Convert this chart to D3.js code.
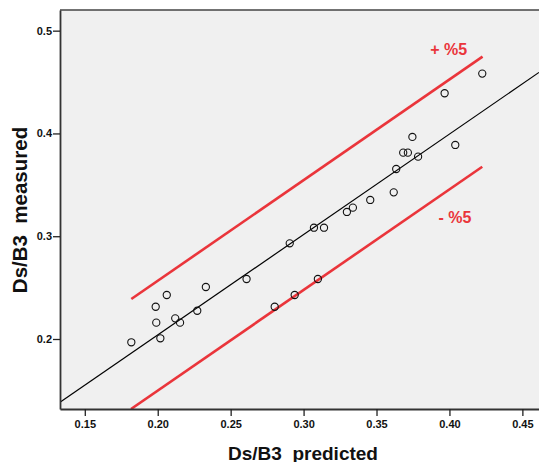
<!DOCTYPE html>
<html>
<head>
<meta charset="utf-8">
<script src="https://cdn.jsdelivr.net/npm/d3@7"></script>
<style>
  html, body { margin: 0; padding: 0; background: #ffffff; }
  svg { display: block; }
  text { font-family: "Liberation Sans", Arial, sans-serif; }
</style>
</head>
<body>
<script>
// ---- data ----
const predicted = [0.1819, 0.2018, 0.1990, 0.2120, 0.2153, 0.1986, 0.2062, 0.2271, 0.2330,
  0.2609, 0.2802, 0.2905, 0.2939, 0.3071, 0.3098, 0.3140, 0.3297, 0.3338, 0.3457,
  0.3618, 0.3635, 0.3683, 0.3715, 0.3746, 0.3785, 0.3967, 0.4040, 0.4225];
const measured = [0.1968, 0.2007, 0.2159, 0.2201, 0.2159, 0.2314, 0.2428, 0.2275, 0.2506,
  0.2584, 0.2314, 0.2931, 0.2428, 0.3083, 0.2584, 0.3083, 0.3236, 0.3278, 0.3353,
  0.3427, 0.3654, 0.3813, 0.3813, 0.3966, 0.3774, 0.4391, 0.3888, 0.4582];
// fit line (x, y pairs at plot edges)
const fitX = [0.1330, 0.4614];
const fitY = [0.1384, 0.4594];
// +5% and -5% bands
const upperX = [0.1819, 0.4227];
const upperY = [0.2389, 0.4747];
const lowerX = [0.1817, 0.4225];
const lowerY = [0.1319, 0.3676];
const bandLabels = ["+ %5", "- %5"];
const bandLabelPos = [[0.3868, 0.4767], [0.3925, 0.3130]];
const xTicks = [0.15, 0.20, 0.25, 0.30, 0.35, 0.40, 0.45];
const yTicks = [0.2, 0.3, 0.4, 0.5];
const xTitle = "Ds/B3  predicted";
const yTitle = "Ds/B3  measured";

// ---- layout ----
const W = 539, H = 462;
const pL = 60, pR = 539, pT = 10, pB = 409;
const x = d3.scaleLinear().domain([0.1330, 0.4614]).range([pL, pR]);
const y = d3.scaleLinear().domain([0.1319, 0.5201]).range([pB, pT]);
const red = "#ea353b";

const svg = d3.select("body").append("svg").attr("width", W).attr("height", H);

svg.append("defs").append("clipPath").attr("id", "plotclip")
  .append("rect").attr("x", pL).attr("y", pT).attr("width", pR - pL).attr("height", pB - pT);

svg.append("rect").attr("x", pL).attr("y", pT).attr("width", pR - pL + 5).attr("height", pB - pT)
  .attr("fill", "#f0f0f0");

const g = svg.append("g").attr("clip-path", "url(#plotclip)");

const line = d3.line().x(d => x(d[0])).y(d => y(d[1]));

g.append("path").datum(d3.zip(fitX, fitY)).attr("d", line)
  .attr("stroke", "#000").attr("stroke-width", 1.2).attr("fill", "none");
g.append("path").datum(d3.zip(upperX, upperY)).attr("d", line)
  .attr("stroke", red).attr("stroke-width", 2.6).attr("fill", "none");
g.append("path").datum(d3.zip(lowerX, lowerY)).attr("d", line)
  .attr("stroke", red).attr("stroke-width", 2.6).attr("fill", "none");

g.selectAll("circle.pt").data(d3.zip(predicted, measured)).join("circle")
  .attr("class", "pt")
  .attr("cx", d => x(d[0])).attr("cy", d => y(d[1])).attr("r", 3.6)
  .attr("fill", "none").attr("stroke", "#111").attr("stroke-width", 1.1);

svg.selectAll("text.band").data(bandLabels).join("text")
  .attr("class", "band")
  .attr("x", (d, i) => x(bandLabelPos[i][0])).attr("y", (d, i) => y(bandLabelPos[i][1]))
  .attr("fill", red).attr("font-size", 16).attr("font-weight", "bold")
  .style("white-space", "pre")
  .text(d => d);

// frame (top)
svg.append("line").attr("x1", pL).attr("x2", W).attr("y1", pT).attr("y2", pT)
  .attr("stroke", "#444").attr("stroke-width", 1.5);

// axes
const xAxis = svg.append("g").attr("transform", `translate(0,${pB})`)
  .call(d3.axisBottom(x).tickValues(xTicks).tickFormat(d3.format(".2f")).tickSize(7).tickSizeOuter(0).tickPadding(4));
const yAxis = svg.append("g").attr("transform", `translate(${pL},0)`)
  .call(d3.axisLeft(y).tickValues(yTicks).tickFormat(d3.format(".1f")).tickSize(7).tickSizeOuter(0).tickPadding(1));

[xAxis, yAxis].forEach(a => {
  a.select(".domain").attr("stroke", "#333").attr("stroke-width", 1.8);
  a.selectAll(".tick line").attr("stroke", "#222").attr("stroke-width", 1.3);
  a.selectAll(".tick text").attr("fill", "#111").attr("font-size", 11).attr("font-weight", "bold")
    .attr("font-family", "'Liberation Sans', Arial, sans-serif");
});

svg.append("text").attr("x", 303).attr("y", 460).attr("text-anchor", "middle")
  .attr("font-size", 19).attr("font-weight", "bold").attr("fill", "#111")
  .style("white-space", "pre").text(xTitle);

svg.append("text").attr("transform", "translate(27,210) rotate(-90)").attr("text-anchor", "middle")
  .attr("font-size", 20.5).attr("font-weight", "bold").attr("fill", "#111")
  .style("white-space", "pre").text(yTitle);
</script>
</body>
</html>
